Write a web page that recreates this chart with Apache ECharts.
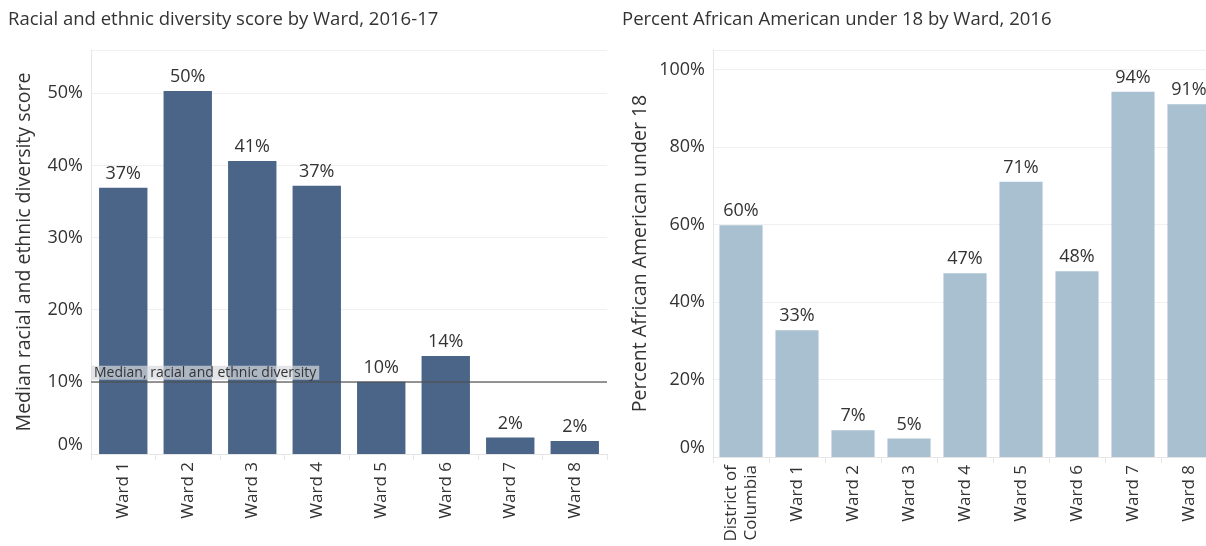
<!DOCTYPE html>
<html>
<head>
<meta charset="utf-8">
<script src="https://cdn.jsdelivr.net/npm/echarts@6/dist/echarts.min.js"></script>
<style>
  html, body { margin: 0; padding: 0; background: #fff; }
  #main { width: 1206px; height: 546px; }
</style>
</head>
<body>
<div id="main"></div>
<script>
// left chart: diversity score by ward
var wards = ['Ward 1', 'Ward 2', 'Ward 3', 'Ward 4', 'Ward 5', 'Ward 6', 'Ward 7', 'Ward 8'];
var diversityScore = [0.369, 0.503, 0.406, 0.372, 0.100, 0.136, 0.023, 0.018];
var medianDiversity = 0.10;

// right chart: percent african american under 18
var areas = ['District of\nColumbia', 'Ward 1', 'Ward 2', 'Ward 3', 'Ward 4', 'Ward 5', 'Ward 6', 'Ward 7', 'Ward 8'];
var pctAfricanAmerican = [0.598, 0.327, 0.069, 0.048, 0.474, 0.710, 0.479, 0.942, 0.910];

var font = '"Open Sans", Lato, sans-serif';
var textColor = '#333';
var fs = 18;        // tick + bar labels
var fsCat = 17;     // rotated category labels
var fsName = 19.5;  // axis names

function pct(v) {
  return Math.round(v * 100) + '%';
}

var myChart = echarts.init(document.getElementById('main'));

var option = {
  animation: false,
  textStyle: { fontFamily: font },
  title: [
    {
      text: 'Racial and ethnic diversity score by Ward, 2016-17',
      left: 8, top: 10, padding: 0,
      textStyle: { fontSize: 18.5, fontWeight: 'normal', color: textColor, fontFamily: font }
    },
    {
      text: 'Percent African American under 18 by Ward, 2016',
      left: 622, top: 10, padding: 0,
      textStyle: { fontSize: 18.5, fontWeight: 'normal', color: textColor, fontFamily: font }
    }
  ],
  grid: [
    { left: 91, width: 516, top: 50, bottom: 92, outerBoundsMode: 'none' },
    { left: 713, width: 504, top: 50, bottom: 89, outerBoundsMode: 'none' }
  ],
  xAxis: [
    {
      gridIndex: 0,
      type: 'category',
      data: wards,
      axisLine: { lineStyle: { color: '#e6e6e6' } },
      axisTick: { show: true, length: 6, lineStyle: { color: '#e6e6e6' } },
      axisLabel: { rotate: 90, fontSize: fsCat, color: textColor, margin: 8 }
    },
    {
      gridIndex: 1,
      type: 'category',
      data: areas,
      axisLine: { lineStyle: { color: '#e6e6e6' } },
      axisTick: { show: true, length: 6, lineStyle: { color: '#e6e6e6' } },
      axisLabel: { rotate: 90, fontSize: fsCat, color: textColor, margin: 8, lineHeight: 20 }
    }
  ],
  yAxis: [
    {
      gridIndex: 0,
      type: 'value',
      min: 0, max: 0.56, interval: 0.1,
      name: 'Median racial and ethnic diversity score',
      nameLocation: 'middle',
      nameGap: 57,
      nameTextStyle: { fontSize: fsName, color: textColor },
      axisLine: { show: true, lineStyle: { color: '#e6e6e6' } },
      axisTick: { show: false },
      splitLine: { lineStyle: { color: '#f0f0f0' } },
      axisLabel: {
        fontSize: fs, color: textColor, margin: 8,
        verticalAlignMinLabel: 'bottom',
        formatter: function (v) {
          return Math.abs(v * 10 - Math.round(v * 10)) < 1e-6 ? pct(v) : '';
        }
      }
    },
    {
      gridIndex: 1,
      type: 'value',
      min: 0, max: 1.05, interval: 0.2,
      name: 'Percent African American under 18',
      nameLocation: 'middle',
      nameGap: 63,
      nameTextStyle: { fontSize: fsName, color: textColor },
      axisLine: { show: true, lineStyle: { color: '#e6e6e6' } },
      axisTick: { show: false },
      splitLine: { lineStyle: { color: '#f0f0f0' } },
      axisLabel: {
        fontSize: fs, color: textColor, margin: 8,
        verticalAlignMinLabel: 'bottom',
        formatter: function (v) {
          return Math.abs(v * 5 - Math.round(v * 5)) < 1e-6 ? pct(v) : '';
        }
      }
    }
  ],
  series: [
    {
      type: 'bar',
      xAxisIndex: 0, yAxisIndex: 0,
      data: diversityScore,
      barCategoryGap: '25%',
      itemStyle: { color: '#4a6588' },
      label: {
        show: true, position: 'top', distance: 5,
        fontSize: fs, color: textColor,
        formatter: function (p) { return pct(p.value); }
      },
      markLine: {
        silent: true,
        symbol: 'none',
        lineStyle: { color: 'rgba(80,80,80,0.6)', width: 2, type: 'solid' },
        label: {
          show: true,
          position: 'insideStartTop',
          formatter: 'Median, racial and ethnic diversity',
          fontSize: 14,
          color: '#333',
          backgroundColor: 'rgba(215,218,222,0.7)',
          padding: [0, 3, 0, 3],
          distance: [0, 2]
        },
        data: [{ yAxis: medianDiversity }]
      }
    },
    {
      type: 'bar',
      xAxisIndex: 1, yAxisIndex: 1,
      data: pctAfricanAmerican,
      barCategoryGap: '23%',
      itemStyle: { color: '#a9c0d1' },
      label: {
        show: true, position: 'top', distance: 5,
        fontSize: fs, color: textColor,
        formatter: function (p) { return pct(p.value); }
      }
    }
  ]
};

myChart.setOption(option);
</script>
</body>
</html>
